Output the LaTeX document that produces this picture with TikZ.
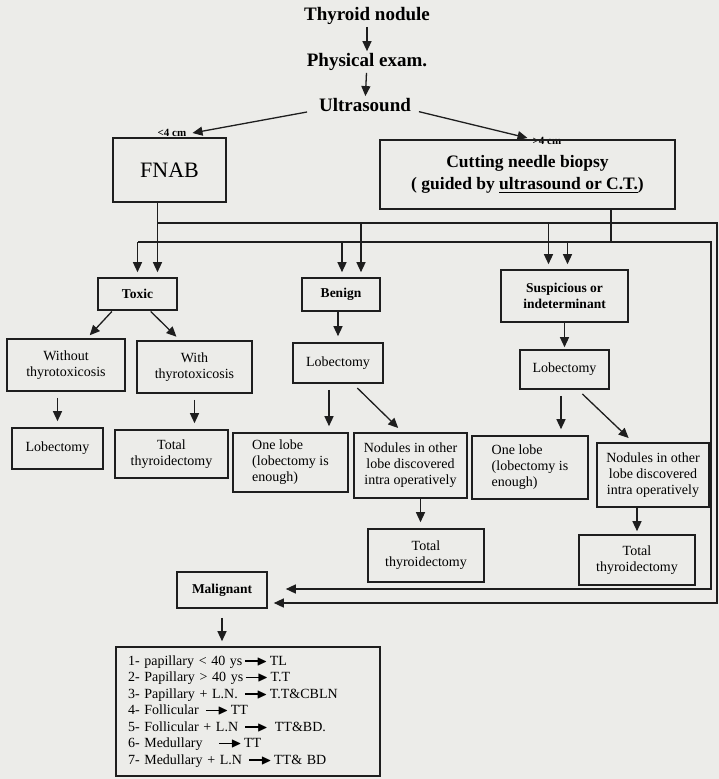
\documentclass[tikz,border=0pt]{standalone}
\usepackage{amssymb}
\usepackage{fontspec}
\setmainfont{Liberation Serif}
\usetikzlibrary{arrows.meta,positioning,calc}
\definecolor{paper}{RGB}{236,236,233}
\definecolor{ink}{RGB}{30,30,30}
\newcommand{\tto}{\,\rule[0.27em]{1.1em}{0.08em}\kern-0.25em\raisebox{0.01em}{$\blacktriangleright$}\,}

\begin{document}
\begin{tikzpicture}[x=1pt, y=-1pt,
    box/.style={draw=ink, line width=1.6pt, align=center, inner sep=2pt, font=\fontsize{14}{16}\selectfont},
    bbox/.style={box, font=\bfseries\fontsize{13.5}{16}\selectfont},
    head/.style={font=\bfseries\fontsize{19}{21}\selectfont, inner sep=1pt},
    sizelbl/.style={font=\bfseries\fontsize{11}{12}\selectfont, inner sep=1pt},
    bus/.style={draw=ink, line width=1.3pt},
    drop/.style={bus, -{Triangle[length=10pt,width=9pt]}, shorten >=5pt},
    arr/.style={drop, shorten <=6pt, shorten >=6pt}]

\fill[paper] (0,0) rectangle (719,779);
\useasboundingbox (0,0) rectangle (719,779);

% first steps
\node[head] (nod) at (367,16) {Thyroid nodule};
\node[head] (phy) at (367,62) {Physical exam.};
\node[head] (us) at (365,105) {Ultrasound};
\node[sizelbl] (lt) at (172,133) {<4 cm};
\node[sizelbl] (gt) at (547,141) {>4 cm};
\draw[arr, shorten <=1pt, shorten >=1pt] (nod) -- (phy);
\draw[arr, shorten <=1pt, shorten >=1pt] (phy) -- (us);
\draw[arr, shorten <=11pt, shorten >=0pt] ([yshift=-5pt]us.west) -- ([xshift=5pt]lt.east);
\draw[arr, shorten <=7pt, shorten >=0pt] ([yshift=-5pt]us.east) -- ([xshift=-4pt,yshift=3pt]gt.west);

\node[box, minimum width=113, minimum height=64, font=\fontsize{22}{24}\selectfont] (fnab) at (169.5,170) {FNAB};
\node[box, minimum width=295, minimum height=69, font=\bfseries\fontsize{17.5}{22}\selectfont] (cut) at (527.5,174.5)
    {Cutting needle biopsy\\( guided by \underline{ultrasound or C.T.})};

% results
\node[bbox, minimum width=79, minimum height=32] (toxic) at (137.5,294) {Toxic};
\node[bbox, minimum width=78, minimum height=33] (benign) at (341,294.5) {Benign};
\node[bbox, minimum width=127, minimum height=52] (susp) at (564.5,296) {Suspicious or\\indeterminant};

\node[box, minimum width=118, minimum height=52] (without) at (66,365) {Without\\thyrotoxicosis};
\node[box, minimum width=115, minimum height=52] (with) at (194.5,367) {With\\thyrotoxicosis};
\node[box, minimum width=90, minimum height=40] (lobm) at (338,363) {Lobectomy};
\node[box, minimum width=89, minimum height=39] (lobr) at (564.5,369.5) {Lobectomy};

\node[box, minimum width=91, minimum height=41] (lobl) at (57.5,448.5) {Lobectomy};
\node[box, minimum width=113, minimum height=48] (totl) at (171.5,454) {Total\\thyroidectomy};
\node[box, minimum width=115, minimum height=59, align=left] (onem) at (290.5,462.5) {One lobe\\(lobectomy is\\enough)};
\node[box, minimum width=113, minimum height=65] (nodm) at (410.5,465.5) {Nodules in other\\lobe discovered\\intra operatively};
\node[box, minimum width=116, minimum height=63, align=left] (oner) at (530,467.5) {One lobe\\(lobectomy is\\enough)};
\node[box, minimum width=112, minimum height=64] (nodr) at (653,475) {Nodules in other\\lobe discovered\\intra operatively};

\node[box, minimum width=116, minimum height=53] (totm) at (426,555.5) {Total\\thyroidectomy};
\node[box, minimum width=116, minimum height=50] (totr) at (637,560) {Total\\thyroidectomy};

\node[bbox, minimum width=90, minimum height=36] (malig) at (222,590) {Malignant};
\node[box, text width=240, inner xsep=12pt, minimum height=129, align=left, font=\fontsize{14}{16.5}\selectfont] (list) at (248,711.5)
    {1- papillary < 40 ys\tto TL\\
     2- Papillary > 40 ys\tto T.T\\
     3- Papillary + L.N. \tto T.T\&CBLN\\
     4- Follicular \tto TT\\
     5- Follicular + L.N \tto\ TT\&BD.\\
     6- Medullary \ \ \tto TT\\
     7- Medullary + L.N \tto TT\& BD};

% the two lines from FNAB and from the biopsy
\coordinate (fa) at (157.5,223);
\coordinate (fb) at (717,223);
\coordinate (fc) at (717,603);
\coordinate (ca) at (138,242);
\coordinate (cb) at (711,242);
\coordinate (cc) at (711,589);
\draw[bus] (fnab.south -| fa) -- (fa);
\draw[drop, shorten >=6pt] (fa) -- (fb) -- (fc) -- (malig.east |- fc);
\draw[bus] ([xshift=83.5pt]cut.south) -- ([xshift=83.5pt]cut.south |- ca);
\draw[drop, shorten >=18pt] (ca) -- (cb) -- (cc) -- (malig.east |- cc);
\foreach \n/\a/\b in {toxic/20/0, benign/20/1, susp/-16/3} {
  \draw[drop] ([xshift=\a pt]\n.north |- fa) -- ([xshift=\a pt]\n.north);
  \draw[drop] ([xshift=\b pt]\n.north |- ca) -- ([xshift=\b pt]\n.north);
}

% branches
\draw[arr, shorten <=1pt, shorten >=4pt] ([xshift=-25pt]toxic.south) -- ([xshift=21pt]without.north);
\draw[arr, shorten <=1pt, shorten >=5pt] ([xshift=12.5pt]toxic.south) -- ([xshift=-14.5pt]with.north);
\draw[arr] (lobl.north |- without.south) -- (lobl.north);
\draw[arr] (with.south) -- (with.south |- totl.north);
\draw[arr, shorten <=0pt] (lobm.north |- benign.south) -- (lobm.north);
\draw[arr] ([xshift=-9pt]lobm.south) -- ([xshift=-9pt]lobm.south |- onem.north);
\draw[arr] ([xshift=15pt]lobm.south) -- ([xshift=-8pt]nodm.north);
\draw[arr, shorten <=0pt] ([xshift=10pt]nodm.south) -- ([xshift=10pt]nodm.south |- totm.north);
\draw[arr, shorten <=0pt, shorten >=2pt] (susp) -- (lobr);
\draw[arr] ([xshift=-3.5pt]lobr.south) -- ([xshift=-3.5pt]lobr.south |- oner.north);
\draw[arr] ([xshift=13.5pt]lobr.south) -- ([xshift=-20pt]nodr.north);
\draw[arr, shorten <=0pt, shorten >=3pt] (totr.north |- nodr.south) -- (totr.north);
\draw[arr, shorten <=9pt, shorten >=5pt] (malig.south) -- (malig.south |- list.north);
\end{tikzpicture}
\end{document}
